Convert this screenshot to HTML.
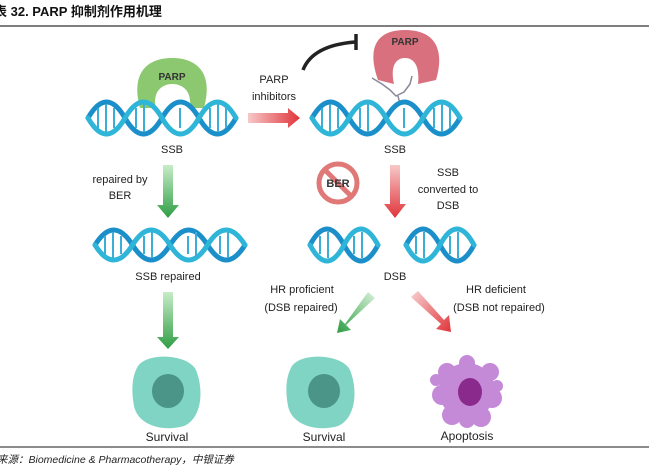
<!DOCTYPE html>
<html><head><meta charset="utf-8"><style>
body{margin:0;background:#fff;}
svg{display:block;font-family:"Liberation Sans","Noto Sans CJK SC",sans-serif;}
</style></head><body>
<svg width="649" height="471" viewBox="0 0 649 471" xmlns="http://www.w3.org/2000/svg">
<defs>
<linearGradient id="gr" x1="0" x2="1"><stop offset="0" stop-color="#f7c8c8"/><stop offset="1" stop-color="#e0343a"/></linearGradient>
<linearGradient id="grd" x1="0" y1="0" x2="0" y2="1"><stop offset="0" stop-color="#f7c8c8"/><stop offset="1" stop-color="#e0343a"/></linearGradient>
<linearGradient id="ggd" x1="0" y1="0" x2="0" y2="1"><stop offset="0" stop-color="#c8ecc8"/><stop offset="1" stop-color="#2e9e44"/></linearGradient>
<linearGradient id="ggdl" x1="1" y1="0" x2="0" y2="1"><stop offset="0" stop-color="#d8f0d8"/><stop offset="1" stop-color="#2e9e44"/></linearGradient>
<linearGradient id="grdr" x1="0" y1="0" x2="1" y2="1"><stop offset="0" stop-color="#f7d0d0"/><stop offset="1" stop-color="#e0343a"/></linearGradient>
</defs>
<text x="-6" y="16" font-size="13" font-weight="bold" fill="#111">表 32. PARP 抑制剂作用机理</text>
<line x1="0" y1="26" x2="649" y2="26" stroke="#333" stroke-width="1.2"/>

<path d="M140 108 C130 70 150 58 172 58 C196 58 214 72 204 108 L190 108 C192 90 182 84 172 84 C162 84 152 92 156 108 Z" fill="#8cc870"/>
<text x="172" y="80" font-size="10" font-weight="bold" text-anchor="middle" fill="#333">PARP</text>
<g fill="none" stroke-width="5" stroke-linecap="round">
<path d="M88 118 Q106.5 86 125 118 T162 118 T199 118 T236 118" stroke="#1a8fc9"/>
<path d="M88 118 Q106.5 150 125 118 T162 118 T199 118 T236 118" stroke="#2fb5d8"/>
</g>
<g stroke="#3aaed6" stroke-width="2">
<line x1="98" y1="108" x2="98" y2="128"/><line x1="106" y1="104" x2="106" y2="132"/><line x1="114" y1="108" x2="114" y2="128"/>
<line x1="136" y1="108" x2="136" y2="128"/><line x1="144" y1="104" x2="144" y2="132"/>
<line x1="180" y1="108" x2="180" y2="128"/><line x1="210" y1="108" x2="210" y2="128"/><line x1="218" y1="104" x2="218" y2="132"/><line x1="226" y1="108" x2="226" y2="128"/>
</g>
<text x="172" y="153" font-size="11" text-anchor="middle" fill="#222">SSB</text>

<text x="274" y="83" font-size="11" text-anchor="middle" fill="#222">PARP</text>
<text x="274" y="100" font-size="11" text-anchor="middle" fill="#222">inhibitors</text>
<path d="M248 113 L288 113 L288 108 L300 118 L288 128 L288 123 L248 123 Z" fill="url(#gr)"/>
<path d="M303 70 C310 52 330 44 355 42" fill="none" stroke="#222" stroke-width="3.5"/>
<line x1="356" y1="34" x2="356" y2="50" stroke="#222" stroke-width="3.5"/>

<path d="M378 80 C366 46 378 30 405 30 C432 30 446 46 436 80 L418 84 C420 66 414 58 405 58 C396 58 390 66 394 84 Z" fill="#d8707e"/>
<text x="405" y="45" font-size="10" font-weight="bold" text-anchor="middle" fill="#333">PARP</text>
<g stroke="#889" stroke-width="1.5" fill="none"><path d="M372 78 L382 84 L390 90 L396 96 L404 92 L410 84 L412 76 M398 96 L400 104"/></g>

<g fill="none" stroke-width="5" stroke-linecap="round">
<path d="M312 118 Q330.5 86 349 118 T386 118 T423 118 T460 118" stroke="#1a8fc9"/>
<path d="M312 118 Q330.5 150 349 118 T386 118 T423 118 T460 118" stroke="#2fb5d8"/>
</g>
<g stroke="#3aaed6" stroke-width="2">
<line x1="322" y1="108" x2="322" y2="128"/><line x1="330" y1="104" x2="330" y2="132"/><line x1="338" y1="108" x2="338" y2="128"/>
<line x1="360" y1="108" x2="360" y2="128"/><line x1="368" y1="104" x2="368" y2="132"/>
<line x1="404" y1="108" x2="404" y2="128"/><line x1="434" y1="108" x2="434" y2="128"/><line x1="442" y1="104" x2="442" y2="132"/><line x1="450" y1="108" x2="450" y2="128"/>
</g>
<text x="395" y="153" font-size="11" text-anchor="middle" fill="#222">SSB</text>

<text x="120" y="183" font-size="11" text-anchor="middle" fill="#222">repaired by</text>
<text x="120" y="199" font-size="11" text-anchor="middle" fill="#222">BER</text>
<path d="M163 165 L173 165 L173 205 L179 205 L168 218 L157 205 L163 205 Z" fill="url(#ggd)"/>

<g fill="none" stroke-width="5" stroke-linecap="round">
<path d="M95 245 Q113.75 215 132.5 245 T170 245 T207.5 245 T245 245" stroke="#1a8fc9"/>
<path d="M95 245 Q113.75 275 132.5 245 T170 245 T207.5 245 T245 245" stroke="#2fb5d8"/>
</g>
<g stroke="#3aaed6" stroke-width="2">
<line x1="105" y1="236" x2="105" y2="254"/><line x1="113" y1="232" x2="113" y2="258"/><line x1="121" y1="236" x2="121" y2="254"/>
<line x1="144" y1="236" x2="144" y2="254"/><line x1="152" y1="232" x2="152" y2="258"/><line x1="188" y1="236" x2="188" y2="254"/><line x1="196" y1="232" x2="196" y2="258"/>
<line x1="220" y1="236" x2="220" y2="254"/><line x1="228" y1="232" x2="228" y2="258"/>
</g>
<text x="168" y="280" font-size="11" text-anchor="middle" fill="#222">SSB repaired</text>
<path d="M163 292 L173 292 L173 337 L179 337 L168 349 L157 337 L163 337 Z" fill="url(#ggd)"/>

<circle cx="338" cy="183" r="19" fill="#fff" stroke="#e07878" stroke-width="5"/>
<line x1="325" y1="170" x2="351" y2="196" stroke="#e07878" stroke-width="5"/>
<text x="338" y="187" font-size="11" font-weight="bold" text-anchor="middle" fill="#333">BER</text>
<path d="M390 165 L400 165 L400 204 L406 204 L395 218 L384 204 L390 204 Z" fill="url(#grd)"/>
<text x="448" y="176" font-size="11" text-anchor="middle" fill="#222">SSB</text>
<text x="448" y="193" font-size="11" text-anchor="middle" fill="#222">converted to</text>
<text x="448" y="209" font-size="11" text-anchor="middle" fill="#222">DSB</text>

<g fill="none" stroke-width="5" stroke-linecap="round">
<path d="M310 245 Q327 213 344 245 T378 245" stroke="#1a8fc9"/>
<path d="M310 245 Q327 277 344 245 T378 245" stroke="#2fb5d8"/>
<path d="M406 245 Q423 213 440 245 T474 245" stroke="#1a8fc9"/>
<path d="M406 245 Q423 277 440 245 T474 245" stroke="#2fb5d8"/>
</g>
<g stroke="#3aaed6" stroke-width="2">
<line x1="320" y1="236" x2="320" y2="254"/><line x1="328" y1="232" x2="328" y2="258"/><line x1="354" y1="236" x2="354" y2="254"/><line x1="362" y1="232" x2="362" y2="258"/>
<line x1="416" y1="236" x2="416" y2="254"/><line x1="424" y1="232" x2="424" y2="258"/><line x1="450" y1="236" x2="450" y2="254"/><line x1="458" y1="232" x2="458" y2="258"/>
</g>
<text x="395" y="280" font-size="11" text-anchor="middle" fill="#222">DSB</text>

<text x="302" y="293" font-size="11" text-anchor="middle" fill="#222">HR proficient</text>
<text x="301" y="311" font-size="11" text-anchor="middle" fill="#222">(DSB repaired)</text>
<path d="M368 292 L375 298 L346 325 L351 330 L337 333 L340 319 L345 324 Z" fill="url(#ggdl)"/>
<text x="496" y="293" font-size="11" text-anchor="middle" fill="#222">HR deficient</text>
<text x="499" y="311" font-size="11" text-anchor="middle" fill="#222">(DSB not repaired)</text>
<path d="M411 297 L418 291 L444 320 L449 315 L451 332 L436 329 L441 324 Z" fill="url(#grdr)"/>

<g>
<path d="M138 366 C148 352 188 354 196 370 C204 390 202 418 184 426 C164 432 138 426 134 406 C131 390 132 376 138 366 Z" fill="#7fd4c4"/>
<ellipse cx="168" cy="391" rx="16" ry="17" fill="#4a9488"/>
<path d="M292 366 C302 352 342 354 350 370 C358 390 356 418 338 426 C318 432 292 426 288 406 C285 390 286 376 292 366 Z" fill="#7fd4c4"/>
<ellipse cx="324" cy="391" rx="16" ry="17" fill="#4a9488"/>
<g fill="#c48ad8">
<circle cx="467" cy="391" r="28"/><circle cx="447" cy="372" r="9"/><circle cx="490" cy="372" r="9"/><circle cx="442" cy="395" r="10"/><circle cx="492" cy="398" r="10"/><circle cx="452" cy="415" r="10"/><circle cx="481" cy="417" r="10"/><circle cx="467" cy="363" r="8"/><circle cx="467" cy="420" r="8"/><circle cx="436" cy="380" r="6"/><circle cx="497" cy="386" r="6"/>
</g>
<ellipse cx="470" cy="392" rx="12" ry="14" fill="#8a2a8c"/>
</g>
<text x="167" y="441" font-size="12" text-anchor="middle" fill="#222">Survival</text>
<text x="324" y="441" font-size="12" text-anchor="middle" fill="#222">Survival</text>
<text x="467" y="440" font-size="12" text-anchor="middle" fill="#222">Apoptosis</text>
<line x1="0" y1="447" x2="649" y2="447" stroke="#666" stroke-width="1.5"/>
<text x="-3" y="463" font-size="10.5" font-style="italic" fill="#222">来源：Biomedicine &amp; Pharmacotherapy，中银证券</text>
</svg>
</body></html>
